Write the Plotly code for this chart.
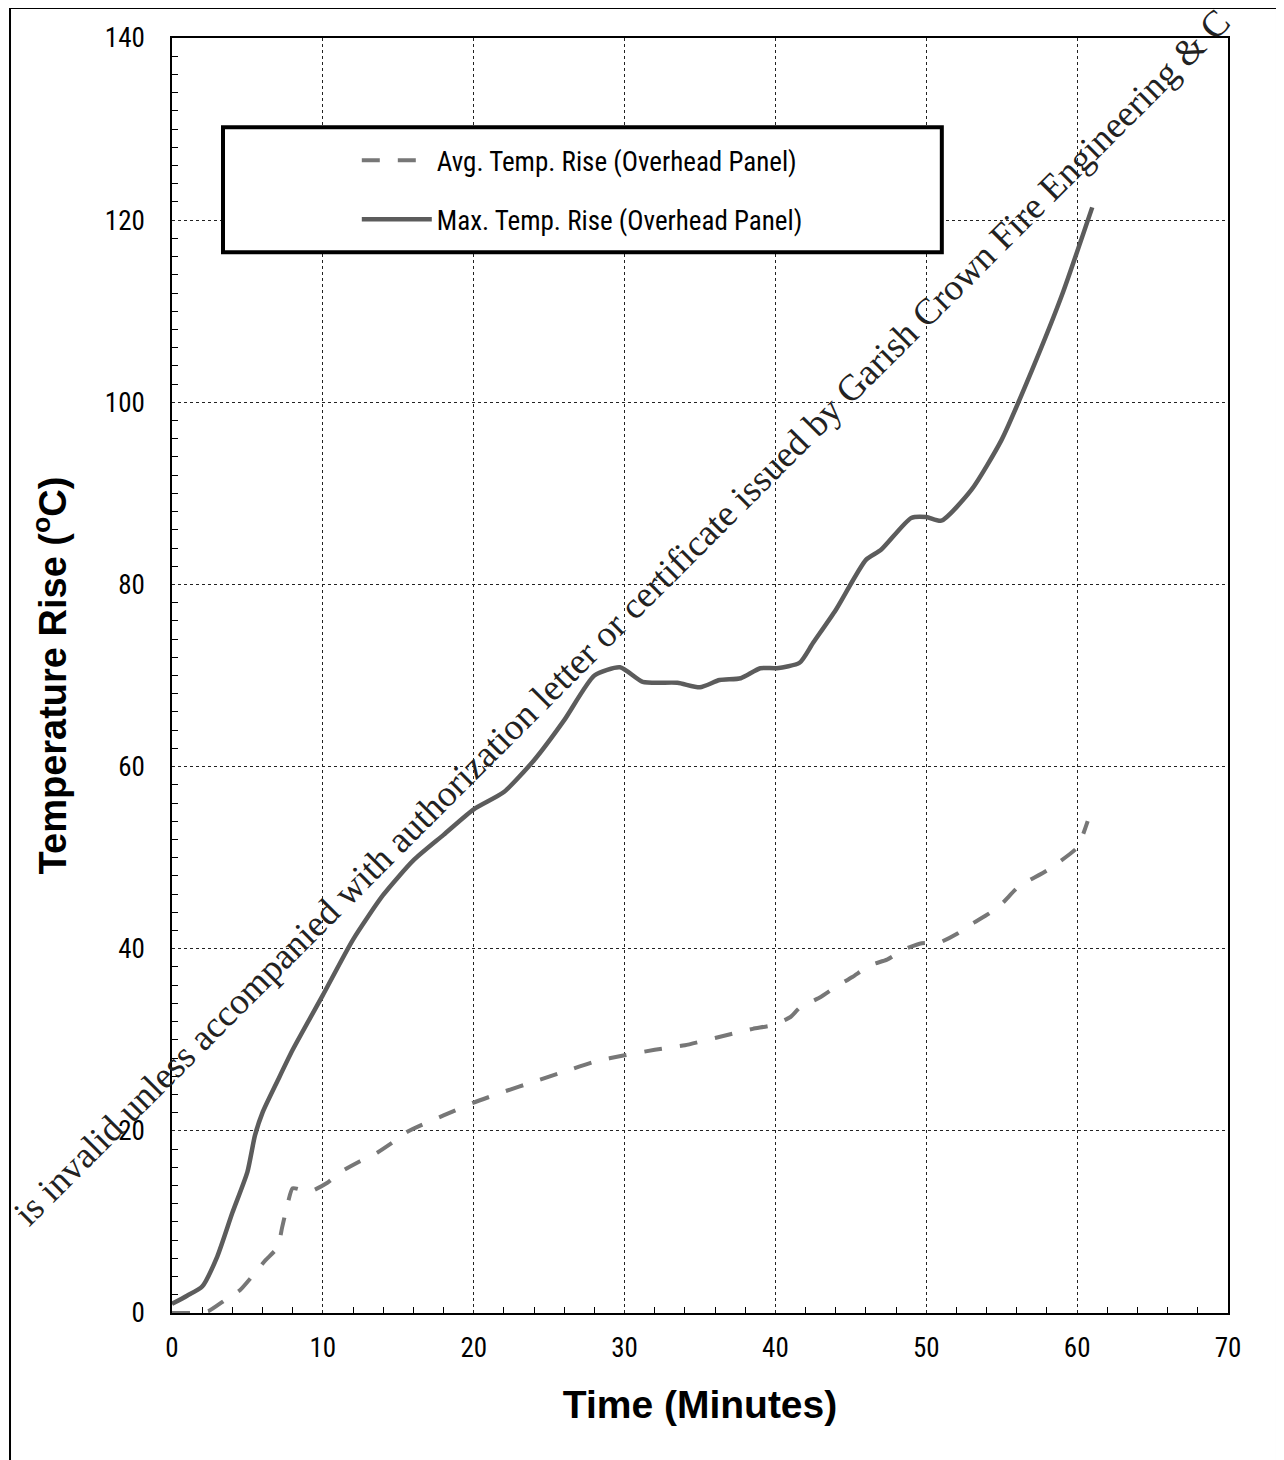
import plotly.graph_objects as go

# ---- data ----
max_time = [0, 1, 2, 3, 4, 5, 5.5, 6, 7, 8, 10, 12, 14, 16, 18, 20, 22, 24, 26, 28,
            29.7, 31.2, 33.5, 35, 36.3, 37.7, 39, 40.1, 41.6, 42.5, 44, 46, 47, 49,
            50, 51, 53, 55, 57, 59, 61]
max_rise = [1.0, 1.9, 2.9, 6.2, 11.0, 15.5, 19.5, 22.0, 25.5, 28.9, 34.9, 41.0, 45.9,
            49.7, 52.5, 55.3, 57.2, 60.7, 65.1, 70.0, 70.9, 69.3, 69.2, 68.7, 69.5,
            69.7, 70.8, 70.8, 71.4, 73.6, 77.2, 82.7, 83.8, 87.3, 87.4, 87.0, 90.4,
            95.9, 103.5, 111.8, 121.4]

avg_time = [0, 1.2, 2.4, 3.5, 4.5, 5.4, 6.2, 7.0, 7.3, 7.6, 8.0, 9.1, 10.3, 11.2, 12.4,
            13.6, 14.6, 15.6, 18, 20, 22, 24, 26, 28, 30, 32, 34, 36, 38.5, 39.8, 41,
            41.6, 43, 44, 45.1, 46.3, 47.4, 48.5, 49.7, 50.9, 52.1, 53.1, 54.2, 55.1,
            56.1, 58, 60, 60.7]
avg_rise = [0, 0, 0.2, 1.4, 2.5, 4.2, 5.8, 7.2, 9.4, 11.5, 13.7, 13.3, 14.3, 15.5, 16.6,
            17.6, 18.7, 19.9, 21.7, 23.1, 24.3, 25.4, 26.5, 27.6, 28.3, 28.9, 29.4,
            30.2, 31.2, 31.6, 32.5, 33.5, 34.7, 35.8, 36.9, 38.2, 38.8, 39.9, 40.6,
            40.7, 41.7, 42.8, 43.9, 45.1, 46.8, 48.6, 51.1, 54.0]

avg_name = "Avg. Temp. Rise (Overhead Panel)"
max_name = "Max. Temp. Rise (Overhead Panel)"
x_title = "Time (Minutes)"
y_title = "Temperature Rise (<sup>o</sup>C)"
watermark = ("is invalid unless accompanied with authorization letter or certificate "
             "issued by Garish Crown Fire Engineering &amp; C")

COND = "Roboto Condensed, Open Sans Condensed, sans-serif"
BOLD = "Liberation Sans, Arial, sans-serif"

fig = go.Figure()
fig.add_trace(go.Scatter(
    x=avg_time, y=avg_rise, mode="lines", name=avg_name, legendgroup="a",
    line=dict(color="#777777", width=4, dash="18px,18px", shape="spline",
              smoothing=0.5)))
fig.add_trace(go.Scatter(
    x=max_time, y=max_rise, mode="lines", name=max_name, legendgroup="b",
    line=dict(color="#5c5c5c", width=4.5, shape="spline", smoothing=0.6)))

axis_common = dict(
    showline=True, linecolor="black", linewidth=1.5, mirror=True,
    showgrid=True, gridcolor="#222", gridwidth=1, griddash="dot",
    zeroline=False, ticks="",
    tickfont=dict(family=COND, size=27, color="black"),
)

fig.update_xaxes(range=[0, 70], dtick=10, tick0=0, ticklabelstandoff=10,
                 minor=dict(dtick=2, ticks="inside", ticklen=6, tickcolor="black",
                            showgrid=False),
                 title=dict(text=x_title, standoff=28,
                            font=dict(family=BOLD, size=39, color="black",
                                      weight="bold")),
                 **axis_common)
fig.update_yaxes(range=[0, 140], dtick=20, tick0=0, ticklabelstandoff=20,
                 minor=dict(dtick=2, ticks="inside", ticklen=6, tickcolor="black",
                            showgrid=False),
                 title=dict(text=y_title, standoff=27,
                            font=dict(family=BOLD, size=38, color="black",
                                      weight="bold")),
                 **axis_common)

# legend frame and page frame
fig.add_shape(type="rect", xref="paper", yref="paper",
              x0=0.0483, x1=0.729, y0=0.832, y1=0.930,
              line=dict(color="black", width=4), fillcolor="white", layer="above")
fig.add_shape(type="rect", xref="paper", yref="paper",
              x0=-0.1534, x1=1.0464, y0=-0.2, y1=1.0235,
              line=dict(color="black", width=2), fillcolor="rgba(0,0,0,0)")

fig.add_annotation(text=watermark, xref="paper", yref="paper", x=0.4266, y=0.546,
                   showarrow=False, textangle=-45,
                   font=dict(family="Liberation Serif, serif", size=37, color="#222"))

fig.update_layout(
    width=1276, height=1452,
    margin=dict(l=164, r=56, t=30, b=147, autoexpand=False),
    paper_bgcolor="white", plot_bgcolor="white",
    showlegend=True,
    legend=dict(x=0.175, y=0.923, xanchor="left", yanchor="top",
                bgcolor="rgba(0,0,0,0)", borderwidth=0,
                itemwidth=70, tracegroupgap=21,
                font=dict(family=COND, size=27, color="black")),
)

fig.write_html("out.html")
